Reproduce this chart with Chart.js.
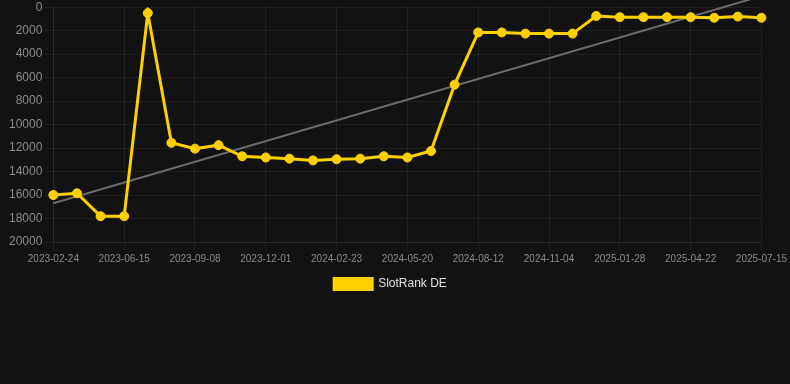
<script src="https://cdnjs.cloudflare.com/ajax/libs/Chart.js/4.4.0/chart.umd.min.js"></script>
<body style="margin:0;background:#121212;">
<style>
    .chart-wrapper {
        width: 790px;
        height: 300px;
    }
</style>

<div class="chart-wrapper">
    <canvas id="chart1" aria-label="chart"></canvas>
</div>

<script>
    // data
    var dates = ["2023-02-24", "2023-03-24", "2023-05-19", "2023-06-15", "2023-07-14", "2023-08-11",
                 "2023-09-08", "2023-10-06", "2023-11-03", "2023-12-01", "2023-12-29", "2024-01-26",
                 "2024-02-23", "2024-03-22", "2024-04-22", "2024-05-20", "2024-06-17", "2024-07-15",
                 "2024-08-12", "2024-09-09", "2024-10-07", "2024-11-04", "2024-12-02", "2024-12-30",
                 "2025-01-28", "2025-02-25", "2025-03-25", "2025-04-22", "2025-05-20", "2025-06-17",
                 "2025-07-15"];
    var rankDE = [16000, 15850, 17800, 17800, 500, 11550, 12050, 11750, 12700, 12800, 12900, 13050,
                  12950, 12900, 12700, 12800, 12250, 6600, 2150, 2150, 2250, 2250, 2250, 750,
                  850, 850, 850, 850, 900, 800, 900];
    // trend line end points (first and last date)
    var trendEnds = [16700, -950];
    var yTicks = [0, 2000, 4000, 6000, 8000, 10000, 12000, 14000, 16000, 18000, 20000];

    var trend = dates.map(function () { return null; });
    trend[0] = trendEnds[0];
    trend[dates.length - 1] = trendEnds[1];

    var ctx1 = document.getElementById("chart1").getContext("2d");
    var chartId1 = new Chart(ctx1, {
        type: 'line',
        data: {
            labels: dates,
            datasets: [{
                label: "SlotRank DE",
                data: rankDE,
                borderColor: '#ffd000',
                backgroundColor: '#ffd000',
                borderWidth: 3,
                pointRadius: 4.5,
                pointBorderWidth: 1,
                pointHoverRadius: 5,
                pointBackgroundColor: '#ffd000',
                pointBorderColor: '#ffd000',
                tension: 0
            }, {
                label: "trend",
                data: trend,
                spanGaps: true,
                clip: false,
                borderColor: '#6b6b6b',
                borderWidth: 2,
                pointRadius: 0,
                pointHoverRadius: 0
            }]
        },
        options: {
            responsive: true,
            maintainAspectRatio: false,
            animation: false,
            layout: { padding: { right: 15, left: 6, top: 0 } },
            plugins: {
                legend: {
                    position: 'bottom',
                    labels: {
                        color: '#e0e0e0',
                        boxWidth: 38,
                        boxHeight: 11,
                        font: { size: 12 },
                        filter: function (item) { return item.text !== 'trend'; }
                    }
                },
                tooltip: { enabled: false }
            },
            scales: {
                x: {
                    grid: { color: 'rgba(255,255,255,0.06)' },
                    border: { color: 'rgba(255,255,255,0.06)' },
                    ticks: {
                        color: '#8a8a8a',
                        font: { size: 10 },
                        maxRotation: 0,
                        autoSkip: false,
                        callback: function (v, i) {
                            return i % 3 === 0 ? dates[i] : null;
                        }
                    }
                },
                y: {
                    reverse: true,
                    min: 0,
                    max: 20000,
                    afterBuildTicks: function (axis) {
                        axis.ticks = yTicks.map(function (v) { return { value: v }; });
                    },
                    grid: { color: 'rgba(255,255,255,0.06)' },
                    border: { color: 'rgba(255,255,255,0.06)' },
                    ticks: {
                        color: '#8a8a8a',
                        font: { size: 12, lineHeight: 0.7 },
                        callback: function (v) { return String(v); }
                    }
                }
            }
        }
    });
</script>
</body>
